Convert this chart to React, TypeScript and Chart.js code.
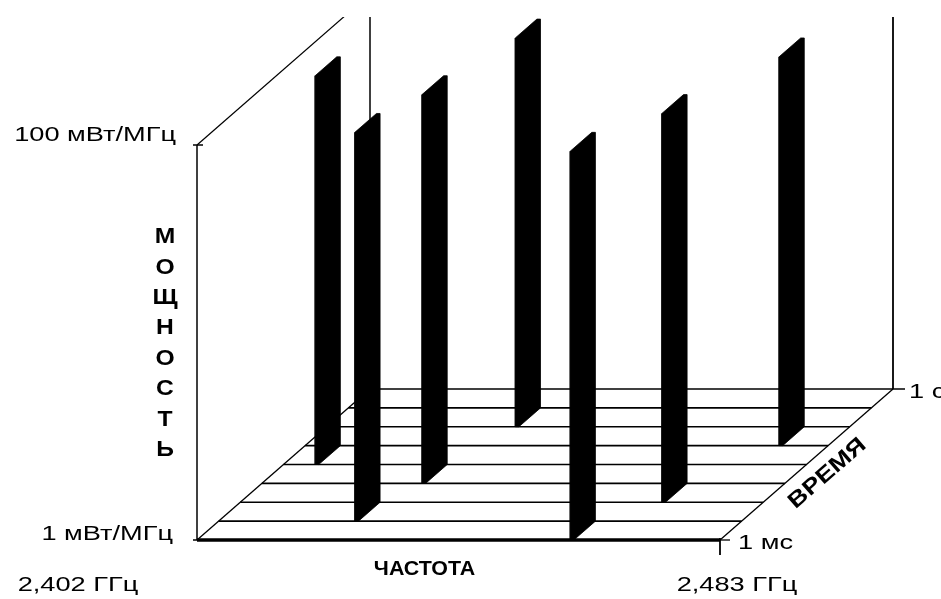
import React, { useEffect, useRef } from "react";
import { Chart, registerables } from "chart.js";
Chart.register(...registerables);

// ---- data ----
const FREQ_MIN = 2.402; // GHz
const FREQ_MAX = 2.483; // GHz
const TIME_SLOTS = 8;
const POWER_MIN = 1; // mW/MHz
const POWER_MAX = 100; // mW/MHz
const hopSlots = [0, 1, 2, 3, 4, 5, 6];
const hopFrequencies = [2.4598, 2.4231, 2.4673, 2.4268, 2.4069, 2.4754, 2.4312]; // GHz
const hopPowers = [93, 93, 93, 93, 93, 93, 93]; // mW/MHz
const powerTickLabels = ["1 мВт/МГц", "100 мВт/МГц"];
const freqTickLabels = ["2,402 ГГц", "2,483 ГГц"];
const timeTickLabels = ["1 мс", "1 с"];
const axisTitles = { freq: "ЧАСТОТА", time: "ВРЕМЯ", power: "МОЩНОСТЬ" };

// ---- layout ----
const W = 941;
const H = 599;
const PAD_TOP = 17;
const ORIGIN_X = 197;
const ORIGIN_Y = 540;
const FREQ_SPAN_PX = 523;
const DECADE_PX = 197.5;
const SLOT_DX_PX = 21.625;
const SLOT_DY_PX = 18.875;
const BAR_THICK_PX = 3.6;

const pxPerGHz = FREQ_SPAN_PX / (FREQ_MAX - FREQ_MIN);
const X_MIN = FREQ_MIN - ORIGIN_X / pxPerGHz;
const X_MAX = X_MIN + W / pxPerGHz;
const Y_MIN = -(H - ORIGIN_Y) / DECADE_PX;
const Y_MAX = (ORIGIN_Y - PAD_TOP) / DECADE_PX;
const DX = SLOT_DX_PX / pxPerGHz;
const DY = SLOT_DY_PX / DECADE_PX;
const BAR_W = BAR_THICK_PX / pxPerGHz;

const proj = (f: number, slot: number, p: number) => ({
  x: f + slot * DX,
  y: Math.log10(p) + slot * DY,
});

const lineDs = (pts: { x: number; y: number }[], width: number) => ({
  type: "line" as const,
  data: pts,
  borderColor: "#000",
  borderWidth: width,
  pointRadius: 0,
  fill: false,
  tension: 0,
  borderCapStyle: "butt" as const,
});

function buildDatasets() {
  const ds: any[] = [];
  for (let d = 0; d <= TIME_SLOTS; d++) {
    ds.push(lineDs([proj(FREQ_MIN, d, POWER_MIN), proj(FREQ_MAX, d, POWER_MIN)], d === 0 ? 3.5 : 1.6));
  }
  ds.push(lineDs([proj(FREQ_MIN, 0, POWER_MIN), proj(FREQ_MIN, TIME_SLOTS, POWER_MIN)], 1.3));
  ds.push(lineDs([proj(FREQ_MAX, 0, POWER_MIN), proj(FREQ_MAX, TIME_SLOTS, POWER_MIN)], 1.3));
  ds.push(lineDs([proj(FREQ_MIN, 0, POWER_MIN), proj(FREQ_MIN, 0, POWER_MAX)], 1.5));
  ds.push(lineDs([proj(FREQ_MIN, 0, POWER_MAX), proj(FREQ_MIN, TIME_SLOTS, POWER_MAX)], 1.2));
  ds.push(lineDs([proj(FREQ_MIN, TIME_SLOTS, POWER_MIN), proj(FREQ_MIN, TIME_SLOTS, POWER_MAX)], 1.5));
  ds.push(lineDs([proj(FREQ_MAX, TIME_SLOTS, POWER_MIN), proj(FREQ_MAX, TIME_SLOTS, POWER_MAX)], 1.8));
  hopSlots.forEach((s, i) => {
    const f = hopFrequencies[i];
    const p = hopPowers[i];
    const pts = [
      proj(f, s, POWER_MIN),
      proj(f + BAR_W, s, POWER_MIN),
      proj(f + BAR_W, s + 1, POWER_MIN),
      proj(f + BAR_W, s + 1, p),
      proj(f, s + 1, p),
      proj(f, s, p),
      proj(f, s, POWER_MIN),
    ];
    ds.push({
      type: "line",
      data: pts,
      borderColor: "#000",
      backgroundColor: "#000",
      borderWidth: 0.8,
      pointRadius: 0,
      fill: "shape",
      tension: 0,
    });
  });
  return ds;
}

const REG_FONT = "20px 'Liberation Sans', Arial, sans-serif";
const BOLD_FONT = "bold 21px 'Liberation Sans', Arial, sans-serif";
const BIG_BOLD_FONT = "bold 22px 'Liberation Sans', Arial, sans-serif";
const STRETCH = 1.36;

function stretchedText(
  ctx: CanvasRenderingContext2D,
  text: string,
  x: number,
  y: number,
  align: "left" | "right" | "center",
  font: string,
  sx: number,
  angle = 0
) {
  ctx.save();
  ctx.font = font;
  ctx.textBaseline = "middle";
  ctx.textAlign = "left";
  const w = ctx.measureText(text).width * sx;
  ctx.translate(x, y);
  if (angle) ctx.rotate(angle);
  let ox = 0;
  if (align === "right") ox = -w;
  else if (align === "center") ox = -w / 2;
  ctx.translate(ox, 0);
  ctx.scale(sx, 1);
  ctx.fillStyle = "#000";
  ctx.fillText(text, 0, 0);
  ctx.restore();
}

const labelsPlugin = {
  id: "labels3d",
  afterDraw(chart: any) {
    const ctx: CanvasRenderingContext2D = chart.ctx;
    const xs = chart.scales.x;
    const ys = chart.scales.y;
    const P = (f: number, s: number, p: number) => {
      const q = proj(f, s, p);
      return { x: xs.getPixelForValue(q.x), y: ys.getPixelForValue(q.y) };
    };
    const line = (x1: number, y1: number, x2: number, y2: number, w: number) => {
      ctx.save();
      ctx.strokeStyle = "#000";
      ctx.lineWidth = w;
      ctx.beginPath();
      ctx.moveTo(x1, y1);
      ctx.lineTo(x2, y2);
      ctx.stroke();
      ctx.restore();
    };
    const o = P(FREQ_MIN, 0, POWER_MIN);
    const top = P(FREQ_MIN, 0, POWER_MAX);
    const fr = P(FREQ_MAX, 0, POWER_MIN);
    const br = P(FREQ_MAX, TIME_SLOTS, POWER_MIN);

    line(top.x - 4, top.y, top.x + 6, top.y, 1.5);
    line(o.x - 4, o.y, o.x + 6, o.y, 1.5);
    line(fr.x, fr.y - 2, fr.x, fr.y + 15, 1.8);
    line(fr.x, fr.y, fr.x + 10, fr.y, 1.3);
    line(br.x, br.y, br.x + 12, br.y, 1.5);

    stretchedText(ctx, powerTickLabels[1], top.x - 21, top.y - 10, "right", REG_FONT, STRETCH);
    stretchedText(ctx, powerTickLabels[0], o.x - 24, o.y - 6, "right", REG_FONT, STRETCH);
    stretchedText(ctx, freqTickLabels[0], o.x - 119, o.y + 45, "center", REG_FONT, STRETCH);
    stretchedText(ctx, freqTickLabels[1], fr.x + 17, fr.y + 45, "center", REG_FONT, STRETCH);
    stretchedText(ctx, timeTickLabels[0], fr.x + 18, fr.y + 3, "left", REG_FONT, STRETCH);
    stretchedText(ctx, timeTickLabels[1], br.x + 16, br.y + 3, "left", REG_FONT, STRETCH);

    const fm = P((FREQ_MIN + FREQ_MAX) / 2, 0, POWER_MIN);
    stretchedText(ctx, axisTitles.freq, fm.x - 34, fm.y + 29, "center", BOLD_FONT, 1.02);

    const angle = Math.atan2(br.y - fr.y, br.x - fr.x);
    const tm = P(FREQ_MAX, TIME_SLOTS / 2, POWER_MIN);
    stretchedText(ctx, axisTitles.time, tm.x + 21, tm.y + 9, "center", BIG_BOLD_FONT, 1.2, angle);

    const letters = Array.from(axisTitles.power);
    const midY = (o.y + top.y) / 2;
    const step = 30.4;
    letters.forEach((ch, i) => {
      const y = midY + 1 + (i - (letters.length - 1) / 2) * step;
      stretchedText(ctx, ch, o.x - 32, y, "center", BIG_BOLD_FONT, 1.12);
    });
  },
};

export default function App() {
  const ref = useRef<HTMLCanvasElement | null>(null);
  useEffect(() => {
    if (!ref.current) return;
    const chart = new Chart(ref.current, {
      type: "scatter",
      data: { datasets: buildDatasets() },
      options: {
        responsive: false,
        animation: false,
        events: [],
        layout: { padding: { top: PAD_TOP, left: 0, right: 0, bottom: 0 } },
        plugins: { legend: { display: false }, tooltip: { enabled: false }, title: { display: false } },
        scales: {
          x: { type: "linear", display: false, min: X_MIN, max: X_MAX },
          y: { type: "linear", display: false, min: Y_MIN, max: Y_MAX },
        },
        elements: { line: { borderJoinStyle: "miter" } },
      },
      plugins: [labelsPlugin],
    });
    return () => chart.destroy();
  }, []);
  return (
    <div style={{ position: "fixed", left: 0, top: 0, width: W, height: H, background: "#fff" }}>
      <canvas ref={ref} width={W} height={H} style={{ display: "block" }} />
    </div>
  );
}
